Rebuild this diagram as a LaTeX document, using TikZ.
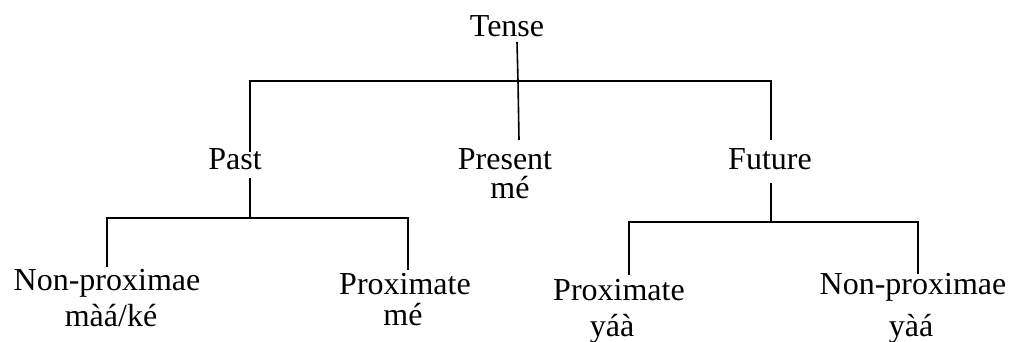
\documentclass[tikz,border=0pt]{standalone}
\usepackage{fontspec}
\setmainfont{Liberation Serif}
\begin{document}
\begin{tikzpicture}[x=1pt,y=-1pt,
  lbl/.style={anchor=base, inner sep=0pt, font=\fontsize{32}{35}\selectfont},
  edge/.style={line width=1.6pt, line join=miter}]
\useasboundingbox (0,0) rectangle (1015,342);
% labels
\node[lbl] (tense) at (507,37) {Tense};
\node[lbl] (past) at (235,169) {Past};
\node[lbl] (present) at (505,169) {Present};
\node[lbl] (presentme) at (510,198) {mé};
\node[lbl] (future) at (770,170) {Future};
\node[lbl] (npA) at (107,290) {Non-proximae};
\node[lbl] (npAf) at (111,326) {màá/ké};
\node[lbl] (pxA) at (405,294) {Proximate};
\node[lbl] (pxAf) at (403,325) {mé};
\node[lbl] (pxB) at (619,300) {Proximate};
\node[lbl] (pxBf) at (612,336) {yáà};
\node[lbl] (npB) at (913,294) {Non-proximae};
\node[lbl] (npBf) at (911,336) {yàá};
% junction coordinates
\coordinate (tbot) at (517,42);
\coordinate (tj) at (518,81);
\coordinate (prtop) at (519,140);
\coordinate (pastj) at (250,81);
\coordinate (futj) at (771,81);
\coordinate (pasttop) at (250,152);
\coordinate (pastbot) at (250,178);
\coordinate (pastk) at (250,218);
\coordinate (npAj) at (107,218);
\coordinate (npAtop) at (107,267);
\coordinate (pxAj) at (408,218);
\coordinate (pxAtop) at (408,270);
\coordinate (futtop) at (771,140);
\coordinate (futbot) at (771,183);
\coordinate (futk) at (771,222);
\coordinate (pxBj) at (629,222);
\coordinate (pxBtop) at (629,275);
\coordinate (npBj) at (918,222);
\coordinate (npBtop) at (918,274);
% connectors
\draw[edge] (tbot) -- (tj) -- (prtop);
\draw[edge] (pasttop) -- (pastj) -- (futj) -- (futtop);
\draw[edge] (pastbot) -- (pastk);
\draw[edge] (npAtop) -- (npAj) -- (pxAj) -- (pxAtop);
\draw[edge] (futbot) -- (futk);
\draw[edge] (pxBtop) -- (pxBj) -- (npBj) -- (npBtop);
\end{tikzpicture}
\end{document}
